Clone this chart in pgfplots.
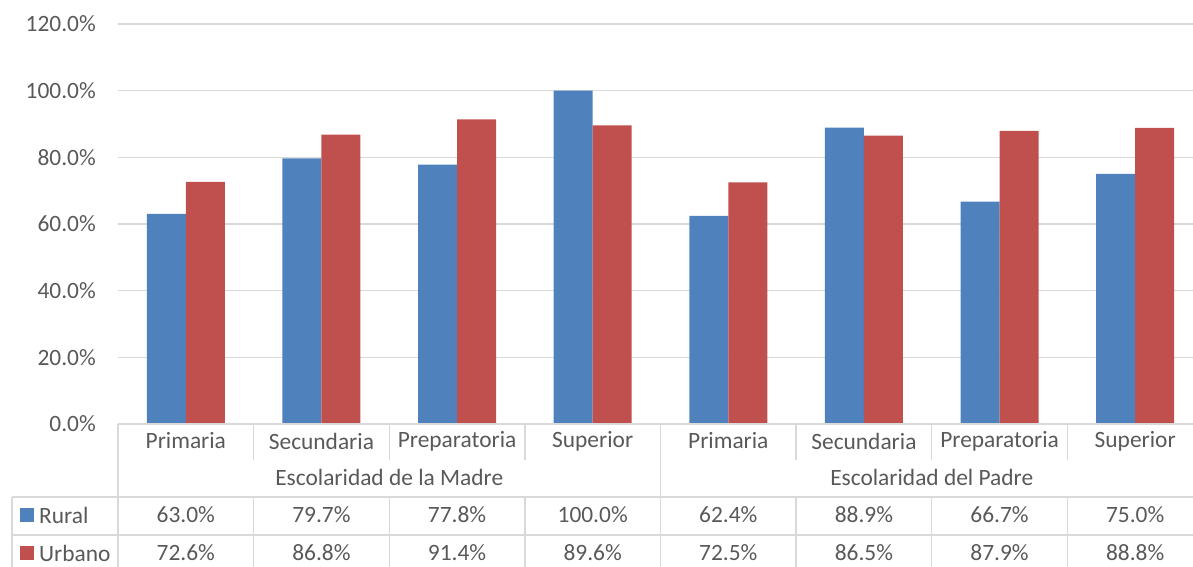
\documentclass[border=0pt]{standalone}
\usepackage{pgfplots}
\pgfplotsset{compat=1.18}
\usepackage{pgfplotstable}
\usepackage{fontspec}
\setmainfont{Carlito}
\definecolor{rural}{HTML}{4F81BD}
\definecolor{urbano}{HTML}{C0504D}
\definecolor{txt}{HTML}{595959}
\definecolor{gridc}{HTML}{D9D9D9}
\pgfkeys{/pgf/number format/assume math mode=true}

% Porcentaje de cada nivel de escolaridad (madre: 0-3, padre: 4-7)
\pgfplotstableread{
x   rural  urbano
0.5 63.0   72.6
1.5 79.7   86.8
2.5 77.8   91.4
3.5 100.0  89.6
4.5 62.4   72.5
5.5 88.9   86.5
6.5 66.7   87.9
7.5 75.0   88.8
}\datatable

\begin{document}
\begin{tikzpicture}[x=1bp, y=1bp, font=\fontsize{23.4bp}{27bp}\selectfont]
\path[use as bounding box] (0,0) rectangle (1193,567);
\begin{axis}[
  at={(118bp,143bp)}, anchor=south west,
  scale only axis, width=1085bp, height=400bp,
  xmin=0, xmax=8, ymin=0, ymax=120,
  ybar=0pt, bar width=39bp,
  axis line style={draw=none},
  major tick length=0pt,
  xtick=\empty,
  ytick={0,20,...,120},
  ymajorgrids, grid style={gridc, line width=1.3bp},
  yticklabel={\pgfmathprintnumber[fixed,fixed zerofill,precision=1]{\tick}\%},
  yticklabel style={text=txt, inner sep=0pt, anchor=east, xshift=-22bp,
    font=\fontsize{23.4bp}{27bp}\selectfont},
]
\addplot[fill=rural, draw=none] table[x=x, y=rural]{\datatable};
\addplot[fill=urbano, draw=none] table[x=x, y=urbano]{\datatable};
\end{axis}

% tabla de datos bajo el eje
\begin{scope}[draw=gridc, line width=1.3bp]
  \draw (118,143) -- (1203,143);
  \draw (12,70) -- (1203,70);
  \draw (12,32) -- (1203,32);
  \draw (12,70) -- (12,0);
  \draw (118,143) -- (118,0);
  \foreach \k in {1,2,3,5,6,7} {
    \draw ({118+135.625*\k},143) -- ({118+135.625*\k},107);
    \draw ({118+135.625*\k},70) -- ({118+135.625*\k},0);
  }
  \draw ({118+135.625*4},143) -- ({118+135.625*4},0);
\end{scope}

\begin{scope}[text=txt]
  \foreach \name [count=\k from 0] in {Primaria,Secundaria,Preparatoria,Superior,Primaria,Secundaria,Preparatoria,Superior}
    \node at ({118+135.625*(\k+0.5)},126) {\name};
  \node at ({118+135.625*2},90) {Escolaridad de la Madre};
  \node at ({118+135.625*6},90) {Escolaridad del Padre};
  \fill[rural] (20,45) rectangle (34,59);
  \fill[urbano] (20,7) rectangle (34,21);
  \node[anchor=west, inner sep=0pt] at (39,52) {Rural};
  \node[anchor=west, inner sep=0pt] at (39,14) {Urbano};
  \foreach \k in {0,...,7} {
    \pgfplotstablegetelem{\k}{rural}\of\datatable
    \node at ({118+135.625*(\k+0.5)},52) {\pgfmathprintnumber[fixed,fixed zerofill,precision=1]{\pgfplotsretval}\%};
    \pgfplotstablegetelem{\k}{urbano}\of\datatable
    \node at ({118+135.625*(\k+0.5)},14) {\pgfmathprintnumber[fixed,fixed zerofill,precision=1]{\pgfplotsretval}\%};
  }
\end{scope}
\end{tikzpicture}
\end{document}
